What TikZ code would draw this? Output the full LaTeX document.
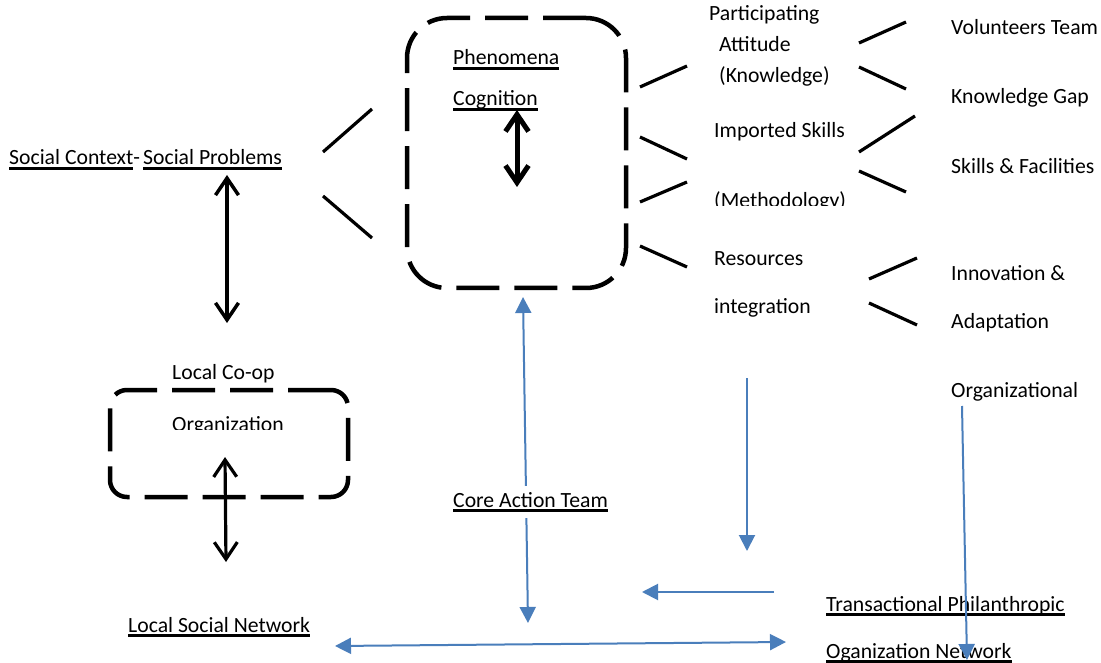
\documentclass[tikz,border=0pt]{standalone}
\usepackage{fontspec}
\setmainfont{Carlito}
\usetikzlibrary{arrows.meta,positioning}
\definecolor{blau}{RGB}{74,126,187}
% dicke Unterstreichung wie im Original
\newcommand\ul[1]{\setbox0\hbox{#1}\rlap{\rule[-5pt]{\wd0}{3pt}}\box0}
\tikzset{
  txt/.style={inner sep=0pt,anchor=base west,font=\fontsize{21.7}{25}\selectfont},
  kasten/.style={draw,line width=4.5pt,dash pattern=on 43pt off 15pt,
    rounded corners=#1,inner sep=0pt},
  kasten/.default=40pt,% voreingestellte Rundung
  strich/.style={line width=3.2pt},
  doppel/.style={line width=#1,
    {Straight Barb[length=17pt,width=23pt]}-{Straight Barb[length=17pt,width=23pt]}},
  pfeil/.style={blau,line width=2pt,-{Triangle[length=16pt,width=16pt]}},
  dpfeil/.style={pfeil,{Triangle[length=16pt,width=16pt]}-{Triangle[length=16pt,width=16pt]}}
}
\begin{document}
\begin{tikzpicture}[x=1pt,y=-1pt]
\useasboundingbox[fill=white] (0,0) rectangle (1101,663);
% Kästen
  \node (phenbox)[kasten,minimum width=219pt,minimum height=270pt] at (516.5,153) {};
  \node (coopbox)[kasten=17pt,minimum width=238pt,minimum height=107pt] at (229,443.5) {};
% Beschriftungen links und in der Mitte
  \node (phen)[txt] at (453,65) {\ul{Phenomena}};
  \node (cogn)[txt] at (453,106) {\ul{Cognition}};
  \node (ctx)[txt] at (9,165) {\ul{Social Context}-};
  \node (prob)[txt] at (143,165) {\ul{Social Problems}};
  \node (coop)[txt] at (172,379) {Local Co-op};
  \begin{scope}
    \clip (160,400) rectangle (300,429.5);
    \node (org)[txt] at (172,431) {Organization};
  \end{scope}
  \node (lsn)[txt] at (128,632) {\ul{Local Social Network}};
  \node (tpo)[txt] at (826,611) {\ul{Transactional Philanthropic}};
  \node (ogn)[txt] at (826,658) {\ul{Oganization Network}};
% Beschriftungen rechts
  \foreach \n/\x/\y/\t in {part/709/21/Participating, att/719/52/Attitude,
      know/719/83/(Knowledge), imp/714/138/Imported Skills, res/714/266/Resources,
      integ/714/313/integration, vol/951/35/Volunteers Team, gap/951/104/Knowledge Gap,
      skills/951/174/Skills \& Facilities, innov/951/280/Innovation \&,
      adapt/951/328/Adaptation, orgl/951/397/Organizational}
    \node (\n)[txt] at (\x,\y) {\t};
  \begin{scope}
    \clip (700,180) rectangle (860,206);
    \node (meth)[txt] at (714,208) {(Methodology)};
  \end{scope}
% kurze Striche
  \foreach \a/\b/\c/\d in {323/152/372/109, 323/196/372/238,
      640/87/687/66, 640/137/687/159, 640/202/687/182, 640/246/687/267,
      859/43/906/22, 859/67/906/89, 859/152/915/116, 859/171/906/192,
      869/279/917/258, 869/303/917/325}
    \draw[strich] (\a,\b) -- (\c,\d);
% schwarze Doppelpfeile
  \coordinate (c1) at (517,110); \coordinate (c2) at (517,187);
  \coordinate (s1) at (227,175); \coordinate (s2) at (227,323);
  \coordinate (o1) at (225,457); \coordinate (o2) at (226,562);
  \draw[doppel=5pt] (c1) -- (c2);
  \draw[doppel=3.5pt] (s1) -- (s2);
  \draw[doppel=3.2pt] (o1) -- (o2);
% blaue Pfeile
  \coordinate (k1) at (523,297); \coordinate (k2) at (528,623);
  \draw[dpfeil] (k1) -- (k2);
  \node (core)[txt,fill=white,inner xsep=0pt,inner ysep=6pt] at (453,507) {\ul{Core Action Team}};
  \coordinate (m1) at (747,378); \coordinate (m2) at (747,551);
  \draw[pfeil] (m1) -- (m2);
  \coordinate (l1) at (774,592); \coordinate (l2) at (642,592);
  \draw[pfeil] (l1) -- (l2);
  \coordinate (n1) at (335,646); \coordinate (n2) at (786,642);
  \draw[dpfeil] (n1) -- (n2);
  \coordinate (g1) at (962,406); \coordinate (g2) at (967,660);
  \draw[pfeil] (g1) -- (g2);
\end{tikzpicture}
\end{document}
